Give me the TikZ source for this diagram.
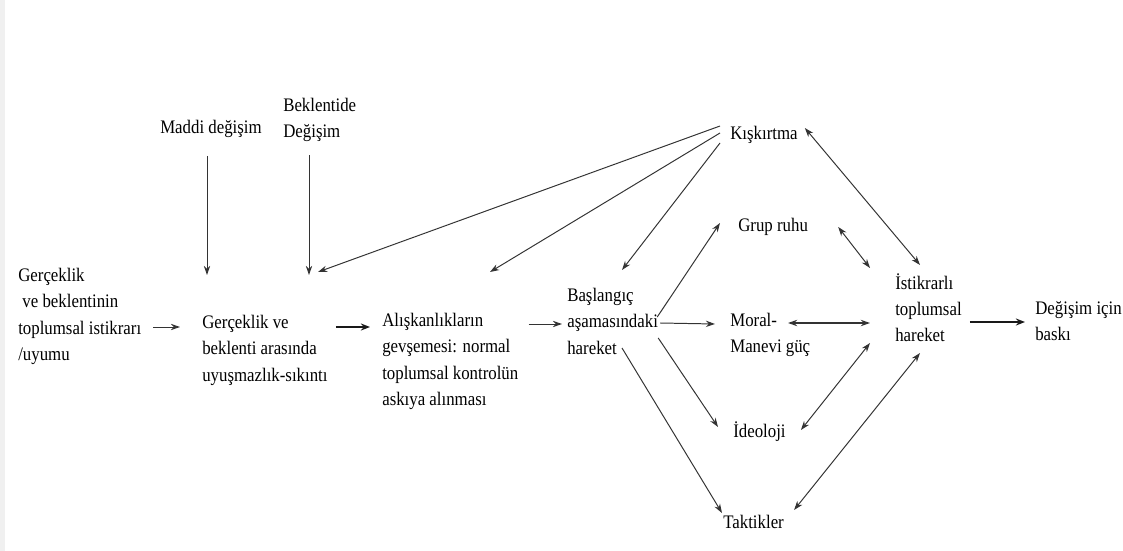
\documentclass[tikz,border=0pt]{standalone}
\usepackage{fontspec}
\setmainfont{Liberation Serif}[FakeStretch=0.88]
\usetikzlibrary{arrows.meta, calc}

\begin{document}
\begin{tikzpicture}[x=0.025cm, y=-0.025cm]
\tikzstyle{txt} = [anchor=north west, inner sep=0pt, align=left, text=black, font=\fontsize{13.6}{18.8}\selectfont]
\tikzstyle{arrow} = [draw=black!80, line width=0.7pt, -{Stealth[length=6.5pt,width=4.5pt]}]
\tikzstyle{bothway} = [draw=black!80, line width=0.7pt, {Stealth[length=6.5pt,width=4.5pt]}-{Stealth[length=6.5pt,width=4.5pt]}]
\tikzstyle{thickarrow} = [draw=black!90, line width=1.2pt, -{Stealth[length=6.5pt,width=5pt]}]

\useasboundingbox (0,0) rectangle (1123,551);
\fill[black!6] (0,0) rectangle (5,551);

%node
\node (uyum) [txt] at (18,268) {Gerçeklik\\\ ve beklentinin\\toplumsal istikrarı\\/uyumu};
\node (sikinti) [txt] at (202,315) {Gerçeklik ve\\beklenti arasında\\uyuşmazlık-sıkıntı};
\node (gevseme) [txt] at (382,313) {Alışkanlıkların\\gevşemesi: normal\\toplumsal kontrolün\\askıya alınması};
\node (baslangic) [txt] at (567,288) {Başlangıç\\aşamasındaki\\hareket};
\node (maddi) [txt] at (160,120) {Maddi değişim};
\node (beklenti) [txt] at (283,98) {Beklentide\\Değişim};
\node (kiskirtma) [txt] at (730,126) {Kışkırtma};
\node (grup) [txt] at (738,218) {Grup ruhu};
\node (moral) [txt] at (730,313) {Moral-\\Manevi güç};
\node (ideoloji) [txt] at (733,421) {İdeoloji};
\node (taktik) [txt] at (723,515) {Taktikler};
\node (istikrar) [txt] at (895,273) {İstikrarlı\\toplumsal\\hareket};
\node (baski) [txt] at (1035,301) {Değişim için\\baskı};

%main line
\draw [arrow] ($(uyum.north east)+(12,59)$) -- ($(sikinti.north west)+(-22,12)$);
\draw [thickarrow] ($(sikinti.north east)+(8,12)$) -- ($(gevseme.north west)+(-12,14)$);
\draw [arrow] ($(gevseme.north east)+(10,11)$) -- ($(baslangic.north west)+(-5,36)$);

%changes from above
\draw [arrow] ($(maddi.south west)+(47,18)$) -- ($(sikinti.north west)+(5,-40)$);
\draw [arrow] ($(beklenti.south west)+(26,13)$) -- ($(sikinti.north west)+(107,-40)$);

%kiskirtma
\draw [arrow] ($(kiskirtma.north west)+(-10,0)$) -- ($(sikinti.north west)+(116,-43)$);
\draw [arrow] ($(kiskirtma.north west)+(-10,7)$) -- ($(gevseme.north west)+(108,-41)$);
\draw [arrow] ($(kiskirtma.north west)+(-10,17)$) -- ($(baslangic.north west)+(55,-18)$);
\draw [bothway] ($(kiskirtma.north east)+(7,2)$) -- ($(istikrar.north west)+(25,-8)$);

%from baslangic
\draw [arrow] ($(baslangic.north east)+(-1,29)$) -- ($(grup.north west)+(-18,5)$);
\draw [arrow] ($(baslangic.north east)+(2,35)$) -- ($(moral.north west)+(-15,11)$);
\draw [arrow] ($(baslangic.north east)+(0,50)$) -- ($(ideoloji.north west)+(-15,6)$);
\draw [arrow] ($(baslangic.north west)+(55,60)$) -- ($(taktik.north west)+(-1,-2)$);

%to istikrarli hareket
\draw [bothway] ($(grup.north east)+(30,9)$) -- ($(istikrar.north west)+(-25,-5)$);
\draw [bothway, line width=1.1pt] ($(moral.north west)+(58,10)$) -- ($(istikrar.north west)+(-25,50)$);
\draw [bothway] ($(ideoloji.north east)+(15,9)$) -- ($(istikrar.north west)+(-25,70)$);
\draw [bothway] ($(taktik.north east)+(10,-5)$) -- ($(istikrar.north west)+(25,80)$);
\draw [thickarrow] ($(istikrar.north east)+(8,49)$) -- ($(baski.north west)+(-10,21)$);
\end{tikzpicture}
\end{document}
